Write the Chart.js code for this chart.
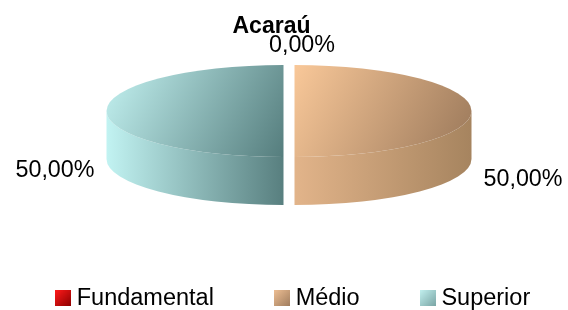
<!DOCTYPE html>
<html><head><meta charset="utf-8">
<script src="https://cdn.jsdelivr.net/npm/chart.js@4.4.1/dist/chart.umd.min.js"></script>
<style>html,body{margin:0;padding:0;background:#fff;overflow:hidden}</style>
</head><body>
<canvas id="c" width="568" height="310"></canvas>
<script>
// ---- data ----
const chartTitle = 'Acaraú';
const categories = ['Fundamental', 'Médio', 'Superior'];
const shares = [0, 50, 50];
const valueLabels = ['0,00%', '50,00%', '50,00%'];

// ---- styling ----
const FONT = '"Liberation Sans", Arial, sans-serif';
const TOP_COLORS  = [['#FF2A2A', '#A00000'], ['#F9C899', '#9A785A'], ['#C4F3F2', '#557D7D']];
const SIDE_COLORS = [['#E01010', '#900000'], ['#E2B48A', '#A6845F'], ['#C2F3F2', '#587F7F']];
const LEGEND_COLORS = [['#FF1A1A', '#8C0000'], ['#EDBE93', '#A07D5E'], ['#C2F0EF', '#7AA5A5']];
const RX = 177, RY = 46, DEPTH = 48, CX = 289, CY = 111, GAP = 5.5;

function sliceAngles(i) {
  const total = shares.reduce((a, b) => a + b, 0);
  let before = 0;
  for (let k = 0; k < i; k++) before += shares[k];
  const s = -Math.PI / 2 + 2 * Math.PI * before / total;
  return [s, s + 2 * Math.PI * shares[i] / total];
}
function sectorBox(cx, cy, rx, ry, s, e) {
  const xs = [cx], ys = [cy];
  const add = a => { xs.push(cx + rx * Math.cos(a)); ys.push(cy + ry * Math.sin(a)); };
  add(s); add(e);
  for (let k = Math.ceil(s / (Math.PI / 2)); k * Math.PI / 2 <= e; k++) add(k * Math.PI / 2);
  return {x0: Math.min(...xs), y0: Math.min(...ys), x1: Math.max(...xs), y1: Math.max(...ys)};
}
function explode(mid) {
  return {x: Math.cos(mid) * GAP, y: Math.sin(mid) * GAP * RY / RX};
}
// gradient defined in screen space, converted to the pie space of the library's arc
function topFill(c) {
  const i = c.dataIndex;
  const chart = c.chart, a = chart.chartArea;
  if (i === undefined || !a) return TOP_COLORS[0][0];
  const pcx = (a.left + a.right) / 2, pcy = (a.top + a.bottom) / 2, r = Math.min(a.width, a.height) / 2;
  const sx = RX / r, sy = RY / r;
  const [s, e] = sliceAngles(i);
  const E = explode((s + e) / 2);
  const ex = CX + E.x, ey = CY + E.y;
  const b = sectorBox(ex, ey, RX, RY, s, e);
  const D = {x: b.x1 - b.x0, y: b.y1 - b.y0};
  const D2 = D.x * D.x + D.y * D.y || 1;
  const w = {x: sx * D.x / D2, y: sy * D.y / D2};
  const w2 = w.x * w.x + w.y * w.y || 1;
  const P0 = {x: pcx + (b.x0 - ex) / sx, y: pcy + (b.y0 - ey) / sy};
  const P1 = {x: P0.x + w.x / w2, y: P0.y + w.y / w2};
  const g = chart.ctx.createLinearGradient(P0.x, P0.y, P1.x, P1.y);
  g.addColorStop(0, TOP_COLORS[i][0]);
  g.addColorStop(1, TOP_COLORS[i][1]);
  return g;
}
function legendSwatch(i) {
  const cv = document.createElement('canvas');
  cv.width = 16; cv.height = 16;
  const x = cv.getContext('2d');
  const g = x.createLinearGradient(0, 0, 16, 16);
  g.addColorStop(0, LEGEND_COLORS[i][0]);
  g.addColorStop(1, LEGEND_COLORS[i][1]);
  x.fillStyle = g;
  x.fillRect(0, 0, 16, 16);
  return cv;
}

const pie3d = {
  id: 'pie3d',
  beforeDatasetsDraw(chart) {
    const ctx = chart.ctx;
    const meta = chart.getDatasetMeta(0);
    // side walls (front half only)
    meta.data.forEach((arc, i) => {
      const s = arc.startAngle, e = arc.endAngle;
      if (e - s <= 0) return;
      const E = explode((s + e) / 2);
      const ex = CX + E.x, ey = CY + E.y;
      for (const base of [-2 * Math.PI, 0, 2 * Math.PI]) {
        const a1 = Math.max(s, base), a2 = Math.min(e, base + Math.PI);
        if (a2 <= a1) continue;
        const xa = ex + RX * Math.cos(a1), xb = ex + RX * Math.cos(a2);
        const g = ctx.createLinearGradient(Math.min(xa, xb), 0, Math.max(xa, xb), 0);
        g.addColorStop(0, SIDE_COLORS[i][0]);
        g.addColorStop(1, SIDE_COLORS[i][1]);
        ctx.save();
        ctx.beginPath();
        ctx.ellipse(ex, ey, RX, RY, 0, a1, a2);
        ctx.ellipse(ex, ey + DEPTH, RX, RY, 0, a2, a1, true);
        ctx.closePath();
        ctx.fillStyle = g;
        ctx.fill();
        ctx.restore();
      }
    });
    // top faces: library arcs drawn into a tilted (scaled) space
    meta.data.forEach((arc) => {
      const E = explode((arc.startAngle + arc.endAngle) / 2);
      ctx.save();
      ctx.translate(CX + E.x, CY + E.y);
      ctx.scale(RX / arc.outerRadius, RY / arc.outerRadius);
      ctx.translate(-arc.x, -arc.y);
      arc.draw(ctx);
      ctx.restore();
    });
    return false;
  },
  afterDraw(chart) {
    const ctx = chart.ctx;
    const meta = chart.getDatasetMeta(0);
    ctx.save();
    ctx.fillStyle = '#000';
    ctx.textAlign = 'center';
    ctx.textBaseline = 'middle';
    ctx.font = 'bold 23px ' + FONT;
    ctx.fillText(chartTitle, 271.5, 27);
    ctx.font = '23.3px ' + FONT;
    meta.data.forEach((arc, i) => {
      const mid = (arc.startAngle + arc.endAngle) / 2;
      const E = explode(mid);
      const px = CX + E.x + RX * Math.cos(mid), py = CY + E.y + RY * Math.sin(mid);
      const w = ctx.measureText(valueLabels[i]).width;
      const c = Math.cos(mid), sn = Math.sin(mid);
      const lx = px + c * (w / 2 + 12) + (sn < -0.5 ? 13 : 0);
      const ly = py + (sn < 0 ? sn * 18 : 0) + Math.abs(c) * (DEPTH + 16) + c * 4.5;
      ctx.fillText(valueLabels[i], lx, ly);
    });
    ctx.restore();
  }
};

new Chart(document.getElementById('c'), {
  type: 'pie',
  data: {
    labels: categories,
    datasets: [{
      data: shares,
      backgroundColor: topFill,
      borderWidth: 0,
      offset: 0
    }]
  },
  options: {
    responsive: false,
    animation: false,
    layout: {padding: {left: -5.4, right: -28.6, top: 0, bottom: -10}},
    plugins: {
      tooltip: {enabled: false},
      title: {display: false},
      legend: {
        display: true,
        position: 'bottom',
        labels: {
          usePointStyle: true,
          boxWidth: 4,
          padding: 66,
          color: '#000',
          font: {family: FONT, size: 23.5},
          generateLabels: () => categories.map((t, i) => ({
            text: t, pointStyle: legendSwatch(i), fillStyle: LEGEND_COLORS[i][0],
            strokeStyle: 'rgba(0,0,0,0)', lineWidth: 0, hidden: false, index: i
          }))
        }
      }
    }
  },
  plugins: [pie3d]
});
</script>
</body></html>
